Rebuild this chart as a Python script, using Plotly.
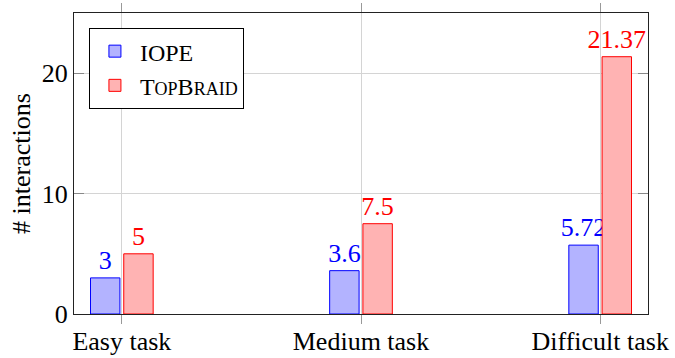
import plotly.graph_objects as go

# Data
tasks = ["Easy task", "Medium task", "Difficult task"]
iope = [3, 3.6, 5.72]
topbraid = [5, 7.5, 21.37]

FONT = "Liberation Serif"
FS = 26
BAR_W = 0.123

fig = go.Figure()

fig.add_trace(go.Bar(
    x=tasks, y=iope, name="IOPE",
    width=BAR_W, offset=-0.131,
    marker=dict(color="#B3B3FF", line=dict(color="#0000FF", width=1)),
    text=[f"{v:g}" for v in iope], textposition="outside",
    textfont=dict(family=FONT, size=FS, color="#0000FF"),
    constraintext="none", cliponaxis=False,
))
fig.add_trace(go.Bar(
    x=tasks, y=topbraid,
    name="T<span style='font-size:18px'>OP</span>B<span style='font-size:18px'>RAID</span>",
    width=BAR_W, offset=0.008,
    marker=dict(color="#FFB3B3", line=dict(color="#FF0000", width=1)),
    text=[f"{v:g}" for v in topbraid], textposition="outside",
    textfont=dict(family=FONT, size=FS, color="#FF0000"),
    constraintext="none", cliponaxis=False,
))

fig.update_layout(
    width=675, height=358,
    margin=dict(l=74, r=27, t=13, b=44),
    barmode="overlay",
    plot_bgcolor="white", paper_bgcolor="white",
    font=dict(family=FONT, size=FS, color="black"),
    showlegend=True,
    legend=dict(
        x=0.026, y=0.95, xanchor="left", yanchor="top",
        bgcolor="white", bordercolor="black", borderwidth=1,
        font=dict(family=FONT, size=24),
        itemwidth=40, tracegroupgap=0,
    ),
)

fig.update_xaxes(
    type="category", range=[-0.2, 2.2], automargin=False,
    showline=True, linecolor="#222", linewidth=1, mirror="ticks",
    showgrid=True, gridcolor="#d4d4d4", gridwidth=1,
    ticks="outside", ticklen=9, tickcolor="#999", tickwidth=1,
    ticklabelstandoff=-5,
    tickfont=dict(family=FONT, size=FS),
    zeroline=False,
)
fig.update_yaxes(
    range=[0, 25], tickvals=[0, 10, 20], automargin=False,
    showline=True, linecolor="#222", linewidth=1, mirror="ticks",
    showgrid=True, gridcolor="#d4d4d4", gridwidth=1,
    ticks="inside", ticklen=10, tickcolor="#888", tickwidth=1,
    tickfont=dict(family=FONT, size=FS),
    title=dict(text="# interactions", font=dict(family=FONT, size=FS), standoff=3),
    zeroline=False,
)

fig.write_html("out.html")
